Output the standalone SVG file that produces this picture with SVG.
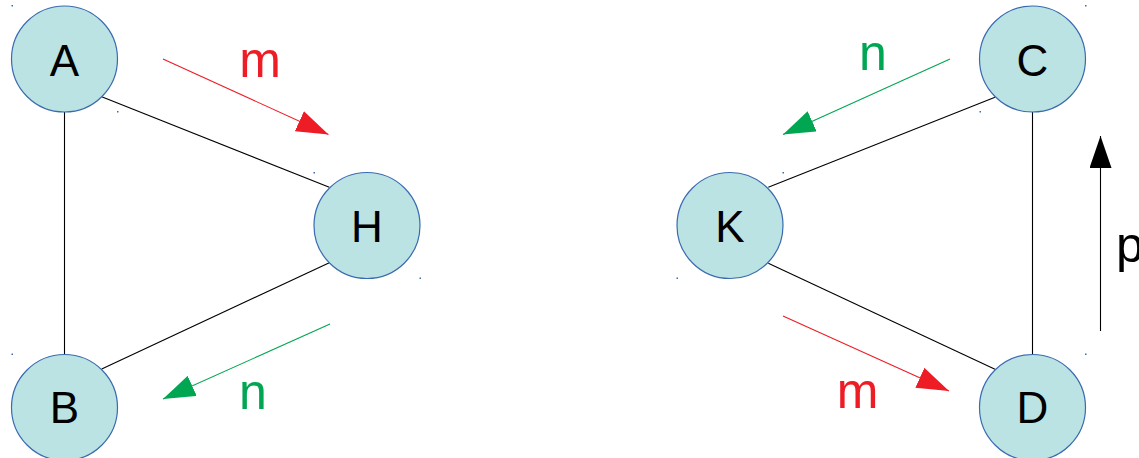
<svg xmlns="http://www.w3.org/2000/svg" width="1139" height="458" viewBox="0 0 1139 458">
  <style>
    .node circle { fill: #bbe3e3; stroke: #3a6bb0; stroke-width: 1.2; }
    .node text { font-family: "Liberation Sans", Arial, sans-serif; font-size: 44px; fill: #000; text-anchor: middle; }
    .edge { stroke: #000; stroke-width: 1.1; fill: none; }
    .red { stroke: #ee1c25; stroke-width: 1.1; fill: none; }
    .green { stroke: #00a651; stroke-width: 1.1; fill: none; }
    .black { stroke: #000; stroke-width: 1.1; fill: none; }
    .lbl { font-family: "Liberation Sans", Arial, sans-serif; font-size: 50px; text-anchor: middle; }
    .dot { fill: #3a6bb0; }
  </style>
  <defs>
    <marker id="headRed" viewBox="0 0 32 22" refX="32" refY="11" markerWidth="32" markerHeight="22" markerUnits="userSpaceOnUse" orient="auto">
      <path d="M0,0 L32,11 L0,22 z" fill="#ee1c25"/>
    </marker>
    <marker id="headGreen" viewBox="0 0 32 22" refX="32" refY="11" markerWidth="32" markerHeight="22" markerUnits="userSpaceOnUse" orient="auto">
      <path d="M0,0 L32,11 L0,22 z" fill="#00a651"/>
    </marker>
    <marker id="headBlack" viewBox="0 0 32 22" refX="32" refY="11" markerWidth="32" markerHeight="22" markerUnits="userSpaceOnUse" orient="auto">
      <path d="M0,0 L32,11 L0,22 z" fill="#000"/>
    </marker>
  </defs>

  <!-- graph edges -->
  <g id="connectors">
    <line class="edge" x1="64.5" y1="112" x2="64.5" y2="354.5"/>
    <line class="edge" x1="101.7" y1="96.7" x2="329.3" y2="187.3"/>
    <line class="edge" x1="329.3" y1="262.7" x2="101.7" y2="369"/>
    <line class="edge" x1="1032.5" y1="112" x2="1032.5" y2="354.5"/>
    <line class="edge" x1="768.3" y1="187.3" x2="995" y2="97.3"/>
    <line class="edge" x1="768.3" y1="263.3" x2="995" y2="369.3"/>
    <!-- direction arrows -->
    <line class="red" x1="163" y1="59" x2="328.5" y2="134.5" marker-end="url(#headRed)"/>
    <line class="green" x1="330" y1="324" x2="163" y2="399" marker-end="url(#headGreen)"/>
    <line class="green" x1="950" y1="59" x2="783" y2="134.5" marker-end="url(#headGreen)"/>
    <line class="red" x1="783" y1="316" x2="949" y2="391" marker-end="url(#headRed)"/>
    <line class="black" x1="1100.5" y1="331" x2="1100.5" y2="136" marker-end="url(#headBlack)"/>
  </g>

  <!-- arrow labels -->
  <g id="labels">
    <text class="lbl" x="260" y="77" fill="#ee1c25">m</text>
    <text class="lbl" x="253" y="408.5" fill="#00a651">n</text>
    <text class="lbl" x="873" y="70" fill="#00a651">n</text>
    <text class="lbl" x="857.5" y="408" fill="#ee1c25">m</text>
    <text class="lbl" x="1116" y="262" fill="#000" text-anchor="start" style="text-anchor:start">p</text>
  </g>

  <g id="node-A" class="node">
    <circle cx="64.5" cy="59" r="53"/>
    <text x="64.5" y="76">A</text>
    <rect class="dot" x="11.5" y="5" width="1.5" height="1.5"/>
    <rect class="dot" x="117" y="111" width="1.5" height="1.5"/>
  </g>
  <g id="node-B" class="node">
    <circle cx="64.5" cy="407.5" r="53"/>
    <text x="64.5" y="423">B</text>
    <rect class="dot" x="11.5" y="353.5" width="1.5" height="1.5"/>
  </g>
  <g id="node-H" class="node">
    <circle cx="367" cy="225.5" r="53"/>
    <text x="367" y="242">H</text>
    <rect class="dot" x="313.5" y="172" width="1.5" height="1.5"/>
    <rect class="dot" x="419.5" y="277.5" width="1.5" height="1.5"/>
  </g>
  <g id="node-K" class="node">
    <circle cx="730" cy="225.5" r="53"/>
    <text x="730" y="242">K</text>
    <rect class="dot" x="782.5" y="172" width="1.5" height="1.5"/>
    <rect class="dot" x="676.5" y="277.5" width="1.5" height="1.5"/>
  </g>
  <g id="node-C" class="node">
    <circle cx="1032.5" cy="59" r="53"/>
    <text x="1032.5" y="76">C</text>
    <rect class="dot" x="1085" y="5" width="1.5" height="1.5"/>
    <rect class="dot" x="979.5" y="111" width="1.5" height="1.5"/>
  </g>
  <g id="node-D" class="node">
    <circle cx="1032.5" cy="407.5" r="53"/>
    <text x="1032.5" y="423">D</text>
    <rect class="dot" x="1085" y="353.5" width="1.5" height="1.5"/>
  </g>
</svg>
